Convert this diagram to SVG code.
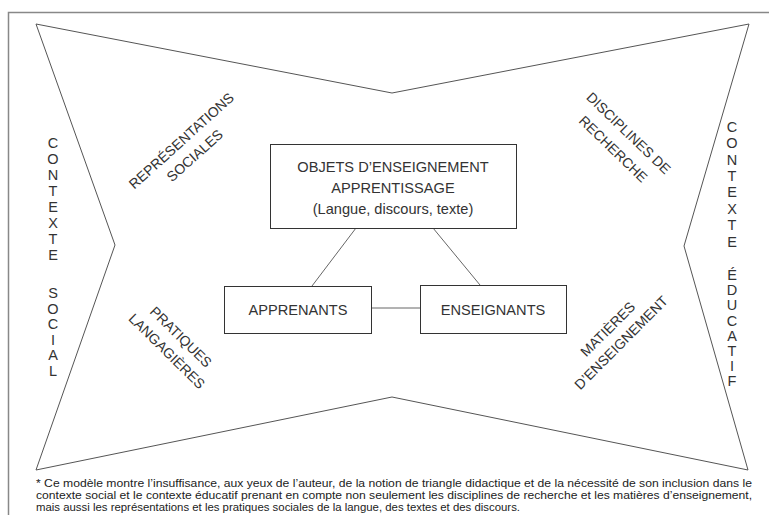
<svg xmlns="http://www.w3.org/2000/svg" width="769" height="515" viewBox="0 0 769 515">
<style>
text{font-family:"Liberation Sans",Arial,sans-serif;fill:#333}
.lbl{font-size:14px}
.big{font-size:14.6px}
.box{fill:#fff;stroke:#333;stroke-width:1}
.con{stroke:#666;stroke-width:1;fill:none}
.vert{font-size:14.5px;text-anchor:middle}
.note{font-size:10.5px;fill:#222}
</style>
<rect width="769" height="515" fill="#fff"/>
<g id="frame">
<path d="M8.5,515 V12.5 H769" fill="none" stroke="#888" stroke-width="1.5"/>
</g>
<g id="star">
<path d="M36,24 L392,93 L749,24 L684,246 L748,470 L392,397 L36,470 L115,245 Z" fill="none" stroke="#555" stroke-width="1"/>
</g>
<g id="connectors">
<line class="con" x1="356" y1="228" x2="312" y2="286"/>
<line class="con" x1="433" y1="228" x2="480" y2="285"/>
<line class="con" x1="371" y1="308" x2="420" y2="308" stroke="#444"/>
</g>
<g id="objets">
<rect class="box" x="270.5" y="144.5" width="246" height="84"/>
<text class="big" text-anchor="middle" x="393" y="172">OBJETS D’ENSEIGNEMENT</text>
<text class="big" text-anchor="middle" x="393" y="193">APPRENTISSAGE</text>
<text class="big" text-anchor="middle" x="393" y="214">(Langue, discours, texte)</text>
</g>
<g id="apprenants">
<rect class="box" x="224.5" y="286.5" width="147" height="47"/>
<text class="big" text-anchor="middle" x="298" y="315">APPRENANTS</text>
</g>
<g id="enseignants">
<rect class="box" x="420.5" y="285.5" width="146" height="48"/>
<text class="big" text-anchor="middle" x="493" y="315">ENSEIGNANTS</text>
</g>
<g id="representations" transform="translate(188,148) rotate(-42)">
<text class="lbl" text-anchor="middle" x="0" y="-5">REPRÉSENTATIONS</text>
<text class="lbl" text-anchor="middle" x="0" y="15">SOCIALES</text>
</g>
<g id="disciplines" transform="translate(621,141) rotate(44)">
<text class="lbl" text-anchor="middle" x="0" y="-6">DISCIPLINES DE</text>
<text class="lbl" text-anchor="middle" x="0" y="16">RECHERCHE</text>
</g>
<g id="pratiques" transform="translate(174,344) rotate(44.5)">
<text class="lbl" text-anchor="middle" x="0" y="-5">PRATIQUES</text>
<text class="lbl" text-anchor="middle" x="0" y="15">LANGAGIÈRES</text>
</g>
<g id="matieres" transform="translate(614,335.5) rotate(-45)">
<text class="lbl" text-anchor="middle" x="0" y="-4">MATIÈRES</text>
<text class="lbl" text-anchor="middle" x="0" y="15">D’ENSEIGNEMENT</text>
</g>
<g id="contexte-social">
<text class="vert"><tspan x="53" y="148">C</tspan><tspan x="53" y="164">O</tspan><tspan x="53" y="180">N</tspan><tspan x="53" y="196">T</tspan><tspan x="53" y="212">E</tspan><tspan x="53" y="228">X</tspan><tspan x="53" y="244">T</tspan><tspan x="53" y="260">E</tspan><tspan x="53" y="298">S</tspan><tspan x="53" y="313.5">O</tspan><tspan x="53" y="329">C</tspan><tspan x="53" y="344.5">I</tspan><tspan x="53" y="360">A</tspan><tspan x="53" y="375.5">L</tspan></text>
</g>
<g id="contexte-educatif">
<text class="vert"><tspan x="732" y="132">C</tspan><tspan x="732" y="148">O</tspan><tspan x="732" y="165">N</tspan><tspan x="732" y="181">T</tspan><tspan x="732" y="197">E</tspan><tspan x="732" y="214">X</tspan><tspan x="732" y="230">T</tspan><tspan x="732" y="247">E</tspan><tspan x="732" y="280">É</tspan><tspan x="732" y="295">D</tspan><tspan x="732" y="310">U</tspan><tspan x="732" y="326">C</tspan><tspan x="732" y="341">A</tspan><tspan x="732" y="356">T</tspan><tspan x="732" y="371">I</tspan><tspan x="732" y="386">F</tspan></text>
</g>
<g id="footnote">
<text class="note" x="36" y="487" textLength="716" lengthAdjust="spacingAndGlyphs">* Ce modèle montre l’insuffisance, aux yeux de l’auteur, de la notion de triangle didactique et de la nécessité de son inclusion dans le</text>
<text class="note" x="36" y="499" textLength="716" lengthAdjust="spacingAndGlyphs">contexte social et le contexte éducatif prenant en compte non seulement les disciplines de recherche et les matières d’enseignement,</text>
<text class="note" x="36" y="511" textLength="484" lengthAdjust="spacingAndGlyphs">mais aussi les représentations et les pratiques sociales de la langue, des textes et des discours.</text>
</g>
</svg>
